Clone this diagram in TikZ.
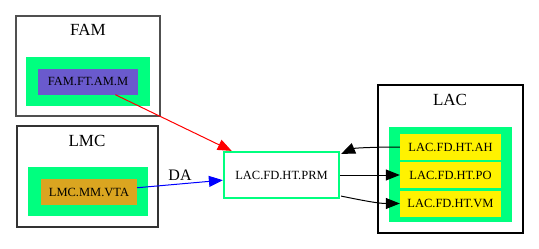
\documentclass[tikz,border=0pt]{standalone}
\usepackage{fontspec}
\setmainfont{Liberation Serif}
\usetikzlibrary{arrows.meta,calc}
\definecolor{springgreen}{RGB}{0,255,127}
\definecolor{slateblue}{RGB}{106,90,205}
\definecolor{goldenrod}{RGB}{218,165,32}
\definecolor{clustergray}{RGB}{80,80,80}

\tikzset{
  cluster/.style={line width=1.2pt},
  title/.style={font=\fontsize{17}{17}\selectfont},
  leaf/.style={minimum width=#1, minimum height=26pt, inner sep=0pt, font=\fontsize{12.5}{12.5}\selectfont},
  link/.style={line width=1pt, -{Triangle[length=14pt,width=11pt]}}
}

\begin{document}
\begin{tikzpicture}[x=1pt, y=-1pt]
  \useasboundingbox (0,0) rectangle (539,249);

  % FAM
  \draw[cluster, clustergray] (16,16) rectangle (160,116);
  \node[title] (famtitle) at (88,30) {FAM};
  \fill[springgreen] (26,57) rectangle (150,106);
  \node[leaf=100pt, fill=slateblue] (famm) at (88,81.5) {FAM.FT.AM.M};

  % LMC
  \draw[cluster, black!80] (17,126) rectangle (158,227);
  \node[title] (lmctitle) at (87,141) {LMC};
  \fill[springgreen] (28,167) rectangle (148,216);
  \node[leaf=96pt, fill=goldenrod] (vta) at (89,192) {LMC.MM.VTA};

  % LAC
  \draw[cluster, black] (378,85) rectangle (523,233);
  \node[title] (lactitle) at (450,100) {LAC};
  \fill[springgreen] (389,127) rectangle (512,222);
  \node[leaf=101pt, fill=yellow] (ah) at (450.5,147) {LAC.FD.HT.AH};
  \node[leaf=101pt, fill=yellow] (po) at (450.5,175) {LAC.FD.HT.PO};
  \node[leaf=101pt, fill=yellow] (vm) at (450.5,203.5) {LAC.FD.HT.VM};

  % PRM
  \node[draw=springgreen, line width=2.2pt, minimum width=115pt, minimum height=46pt, inner sep=0pt,
        font=\fontsize{12.5}{12.5}\selectfont] (prm) at (281.5,175) {LAC.FD.HT.PRM};

  % edges
  \draw[link, red] (famm) -- (prm);
  \draw[link, blue] (vta) -- node[above, pos=0.5, text=black, font=\fontsize{16}{16}\selectfont] (da) {DA} (prm);
  \draw[link] (ah.west) .. controls +(-22,0) and +(14,-6) .. ($(prm.north east)+(1,3)$);
  \draw[link] (prm) -- (po);
  \draw[link] ($(prm.south east)+(1,-3)$) .. controls +(20,4) and +(-22,0) .. (vm.west);
\end{tikzpicture}
\end{document}
